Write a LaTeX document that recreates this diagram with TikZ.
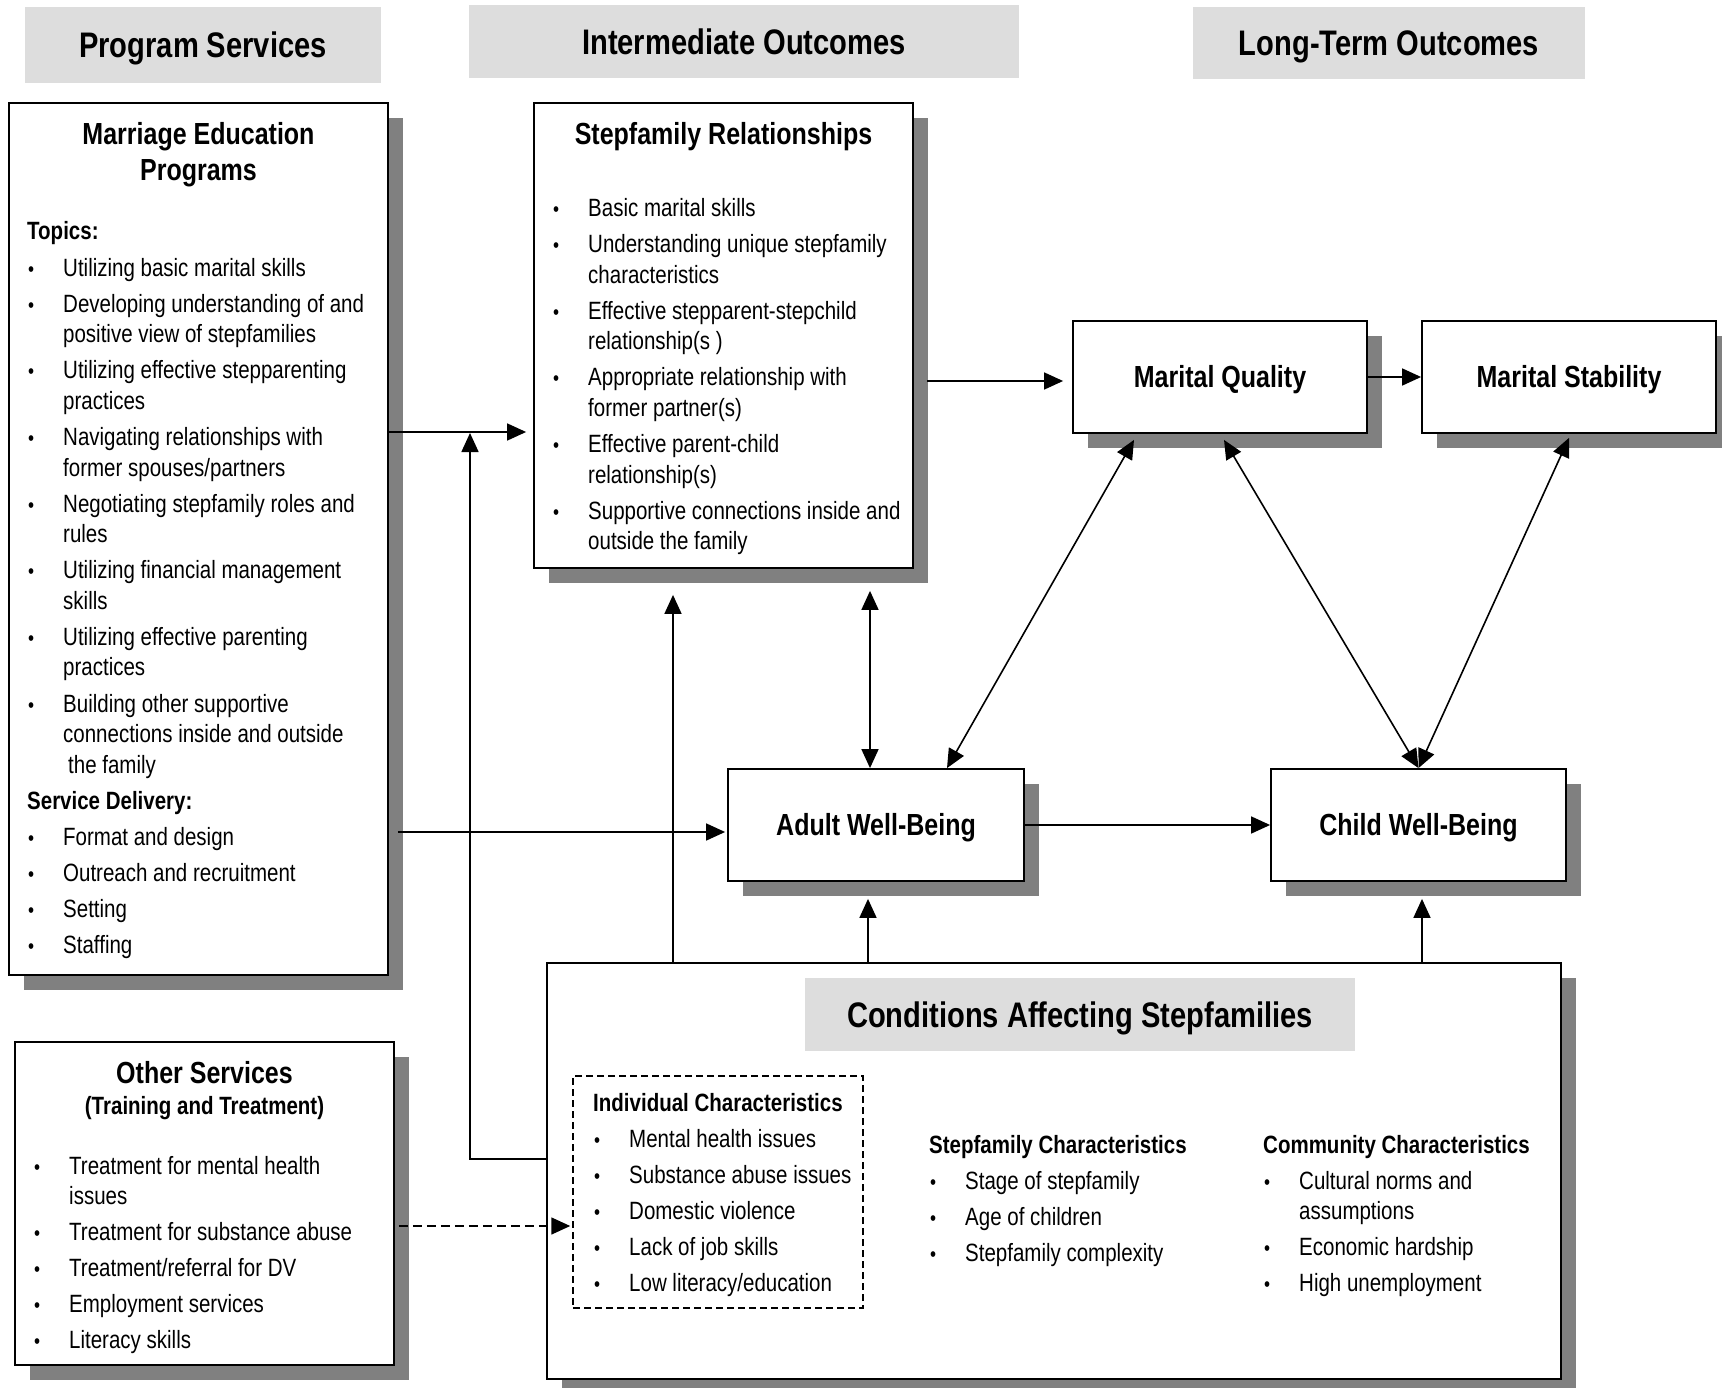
\documentclass[tikz,border=0pt]{standalone}
\usepackage{fontspec}
\setmainfont{Liberation Sans}[FakeStretch=0.82]
\usetikzlibrary{arrows.meta,shadows}
\definecolor{hdrgray}{HTML}{DDDDDD}
\definecolor{shgray}{HTML}{808080}
\newlength\bi \setlength\bi{36pt}
\newlength\bo \setlength\bo{1pt}
\newcommand\smbul{{\fontsize{21}{21}\selectfont\textbullet}}
\newcommand\bl[1]{\par\hangindent\bi\hangafter1\noindent\makebox[\bi][l]{\hspace{\bo}\smbul}#1}
\newcommand\blist[2]{\parbox[t]{#1}{\fontsize{25}{30.55}\selectfont\setlength\rightskip{0pt plus 1fil}\parskip=5.55pt\relax #2}}
\begin{document}
\begin{tikzpicture}[x=1pt,y=-1pt,
 box/.style={draw, line width=1.8pt, fill=white, inner sep=0pt,
   drop shadow={shadow xshift=15pt,shadow yshift=-15pt,fill=shgray,opacity=1}},
 hdr/.style={fill=hdrgray, inner sep=0pt, text height=30pt, text depth=4.6pt,
   font=\fontsize{35.5}{40}\selectfont\bfseries},
 ttl/.style={font=\fontsize{30.5}{36}\selectfont\bfseries},
 ttlbox/.style={ttl, text height=24.5pt, text depth=2.7pt},
 txt/.style={inner sep=0pt, anchor=base west},
 arr/.style={line width=1.6pt, -{Triangle[length=19pt,width=17pt]}},
 darr/.style={line width=1.6pt, {Triangle[length=19pt,width=17pt]}-{Triangle[length=19pt,width=17pt]}},
 dsh/.style={line width=1.6pt, dash pattern=on 9pt off 5pt, -{Triangle[length=19pt,width=17pt]}}
]
\fill[white] (0,0) rectangle (1722,1388);
\useasboundingbox (0,0) rectangle (1722,1388);

% headers
\node[hdr, minimum width=356pt, minimum height=76pt] (hps) at (203,45) {Program Services};
\node[hdr, minimum width=550pt, minimum height=73pt] (hio) at (744,41.5) {Intermediate Outcomes};
\node[hdr, minimum width=392pt, minimum height=72pt] (hlt) at (1389,43) {Long-Term Outcomes};

% boxes
\node[box, minimum width=379pt, minimum height=872pt] (mep) at (198.5,539) {};
\node[box, minimum width=379pt, minimum height=465pt] (sr) at (723.5,335.5) {};
\node[box, ttlbox, minimum width=294pt, minimum height=112pt] (mq) at (1220,377) {Marital Quality};
\node[box, ttlbox, minimum width=294pt, minimum height=112pt] (ms) at (1569,377) {Marital Stability};
\node[box, ttlbox, minimum width=296pt, minimum height=112pt] (awb) at (876,825) {Adult Well-Being};
\node[box, ttlbox, minimum width=295pt, minimum height=112pt] (cwb) at (1418.5,825) {Child Well-Being};
\node[box, minimum width=1014pt, minimum height=416pt] (cas) at (1054,1171) {};
\node[box, minimum width=379pt, minimum height=323pt] (os) at (204.5,1203.5) {};
\node[hdr, minimum width=550pt, minimum height=73pt] (hcas) at (1080,1014.5) {Conditions Affecting Stepfamilies};
\node[draw, line width=1.5pt, dash pattern=on 7pt off 4pt, inner sep=0pt, minimum width=290pt, minimum height=232pt] (ic) at (718,1192) {};

% texts
\node[txt, anchor=base] (mept) at (198.5,145) {\parbox[t]{360pt}{\centering\fontsize{30.5}{36}\selectfont\bfseries Marriage Education\\Programs}};
\node[txt] (mepl) at (27,240) {\blist{450pt}{\noindent\textbf{Topics:}%
\bl{Utilizing basic marital skills}%
\bl{Developing understanding of and\\positive view of stepfamilies}%
\bl{Utilizing effective stepparenting\\practices}%
\bl{Navigating relationships with\\former spouses/partners}%
\bl{Negotiating stepfamily roles and\\rules}%
\bl{Utilizing financial management\\skills}%
\bl{Utilizing effective parenting\\practices}%
\bl{Building other supportive\\connections inside and outside\\\hspace*{5pt}the family}%
\par\noindent\textbf{Service Delivery:}%
\bl{Format and design}%
\bl{Outreach and recruitment}%
\bl{Setting}%
\bl{Staffing}}};

\node[ttl, inner sep=0pt, anchor=base] (srt) at (723.5,145) {Stepfamily Relationships};
\node[txt] (srl) at (552,216.5) {\blist{450pt}{%
\bl{Basic marital skills}%
\bl{Understanding unique stepfamily\\characteristics}%
\bl{Effective stepparent-stepchild\\relationship(s )}%
\bl{Appropriate relationship with\\former partner(s)}%
\bl{Effective parent-child\\relationship(s)}%
\bl{Supportive connections inside and\\outside the family}}};

\node[txt, anchor=base] (ost) at (204.5,1083) {\parbox[t]{370pt}{\centering\fontsize{30.5}{36}\selectfont\bfseries Other Services\\\fontsize{25}{31}\selectfont(Training and Treatment)}};
\node[txt] (osl) at (33,1174) {\blist{450pt}{%
\bl{Treatment for mental health\\issues}%
\bl{Treatment for substance abuse}%
\bl{Treatment/referral for DV}%
\bl{Employment services}%
\bl{Literacy skills}}};

\node[txt] (icl) at (593,1111) {\blist{300pt}{\noindent\textbf{Individual Characteristics}%
\bl{Mental health issues}%
\bl{Substance abuse issues}%
\bl{Domestic violence}%
\bl{Lack of job skills}%
\bl{Low literacy/education}}};
\node[txt] (scl) at (929,1153) {\blist{300pt}{\noindent\textbf{Stepfamily Characteristics}%
\bl{Stage of stepfamily}%
\bl{Age of children}%
\bl{Stepfamily complexity}}};
\node[txt] (ccl) at (1263,1153) {\blist{300pt}{\noindent\textbf{Community Characteristics}%
\bl{Cultural norms and\\assumptions}%
\bl{Economic hardship}%
\bl{High unemployment}}};

% connectors
\coordinate (j1) at (470,433);
\draw[arr] ([yshift=107pt]mep.east) -- ([xshift=-7pt,yshift=-96.5pt]sr.west);
\draw[arr] ([yshift=12pt]cas.west) -| (j1);
\draw[arr] ([xshift=9pt,yshift=-293pt]mep.east) -- ([xshift=-2pt,yshift=-7pt]awb.west);
\draw[arr] ([xshift=-381pt]cas.north) -- ([xshift=-50.5pt,yshift=-26pt]sr.south);
\draw[darr] ([xshift=-6pt]awb.north) -- ([xshift=146.5pt,yshift=-22pt]sr.south);
\draw[arr] ([xshift=13pt,yshift=-45.5pt]sr.east) -- ([xshift=-9pt,yshift=-4pt]mq.west);
\draw[arr] (mq.east) -- (ms.west);
\draw[darr] ([xshift=71pt]awb.north) -- ([xshift=-86pt,yshift=-6pt]mq.south);
\draw[darr] ([xshift=4pt,yshift=-6pt]mq.south) -- (cwb.north);
\draw[darr] ([yshift=-4pt]ms.south) -- (cwb.north);
\draw[arr] (awb.east) -- (cwb.west);
\draw[arr] ([xshift=-186pt]cas.north) -- ([xshift=-8pt,yshift=-17pt]awb.south);
\draw[arr] ([xshift=368pt]cas.north) -- ([xshift=3.5pt,yshift=-17pt]cwb.south);
\draw[dsh] ([xshift=4pt,yshift=-22.5pt]os.east) -- ([xshift=-2pt,yshift=-34pt]ic.west);
\end{tikzpicture}
\end{document}
